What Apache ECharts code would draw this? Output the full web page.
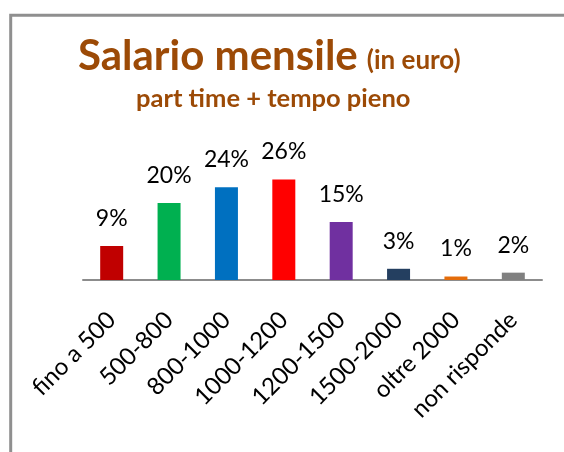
<!DOCTYPE html>
<html>
<head>
<meta charset="utf-8">
<script src="https://cdn.jsdelivr.net/npm/echarts@6/dist/echarts.min.js"></script>
<style>
  html, body { margin: 0; padding: 0; background: #fff; }
  #chart { width: 564px; height: 452px; }
</style>
</head>
<body>
<div id="chart"></div>
<script>
const categories = ["fino a 500", "500-800", "800-1000", "1000-1200", "1200-1500", "1500-2000", "oltre 2000", "non risponde"];
const values = [8.8, 19.9, 24.0, 26.0, 15.0, 2.9, 0.9, 1.9];
const barColors = ["#c00000", "#00b050", "#0070c0", "#ff0000", "#7030a0", "#243f60", "#e46c0a", "#808080"];

const brown = "#9c4a06";
const chart = echarts.init(document.getElementById("chart"));

chart.setOption({
  animation: false,
  graphic: [{
    type: "rect",
    shape: { x: 10.7, y: 15.3, width: 700, height: 700 },
    style: { fill: "none", stroke: "#8f8f8f", lineWidth: 3 }
  }],
  title: [{
    text: "{a|Salario mensile} {b|(in euro)}",
    left: 73,
    top: 24,
    textStyle: {
      rich: {
        a: { fontFamily: "Lato", fontWeight: "bold", fontSize: 42, color: brown, verticalAlign: "bottom", lineHeight: 48 },
        b: { fontFamily: "Lato", fontWeight: "bold", fontSize: 26, color: brown, verticalAlign: "bottom", lineHeight: 48, padding: [0, 0, 3, 4] }
      }
    }
  }, {
    text: "part time + tempo pieno",
    left: 131,
    top: 81,
    textStyle: { fontFamily: "Lato", fontWeight: "bold", fontSize: 25.5, color: brown }
  }],
  grid: { left: 83, right: 22, top: 164, bottom: 172, containLabel: false },
  xAxis: {
    type: "category",
    data: categories,
    axisLine: { lineStyle: { color: "#8c8c8c", width: 2 } },
    axisTick: { show: false },
    axisLabel: {
      rotate: 45,
      interval: 0,
      margin: 36,
      fontFamily: "Lato",
      fontSize: 24,
      color: "#000"
    }
  },
  yAxis: {
    type: "value",
    min: 0,
    max: 30,
    show: false,
    splitLine: { show: false }
  },
  series: [{
    type: "bar",
    barWidth: 23,
    data: values.map((v, i) => ({ value: v, itemStyle: { color: barColors[i] } })),
    label: {
      show: true,
      position: "top",
      distance: 16,
      fontFamily: "Lato",
      fontSize: 23,
      color: "#000",
      formatter: p => Math.round(p.value) + "%"
    }
  }]
});
</script>
</body>
</html>
